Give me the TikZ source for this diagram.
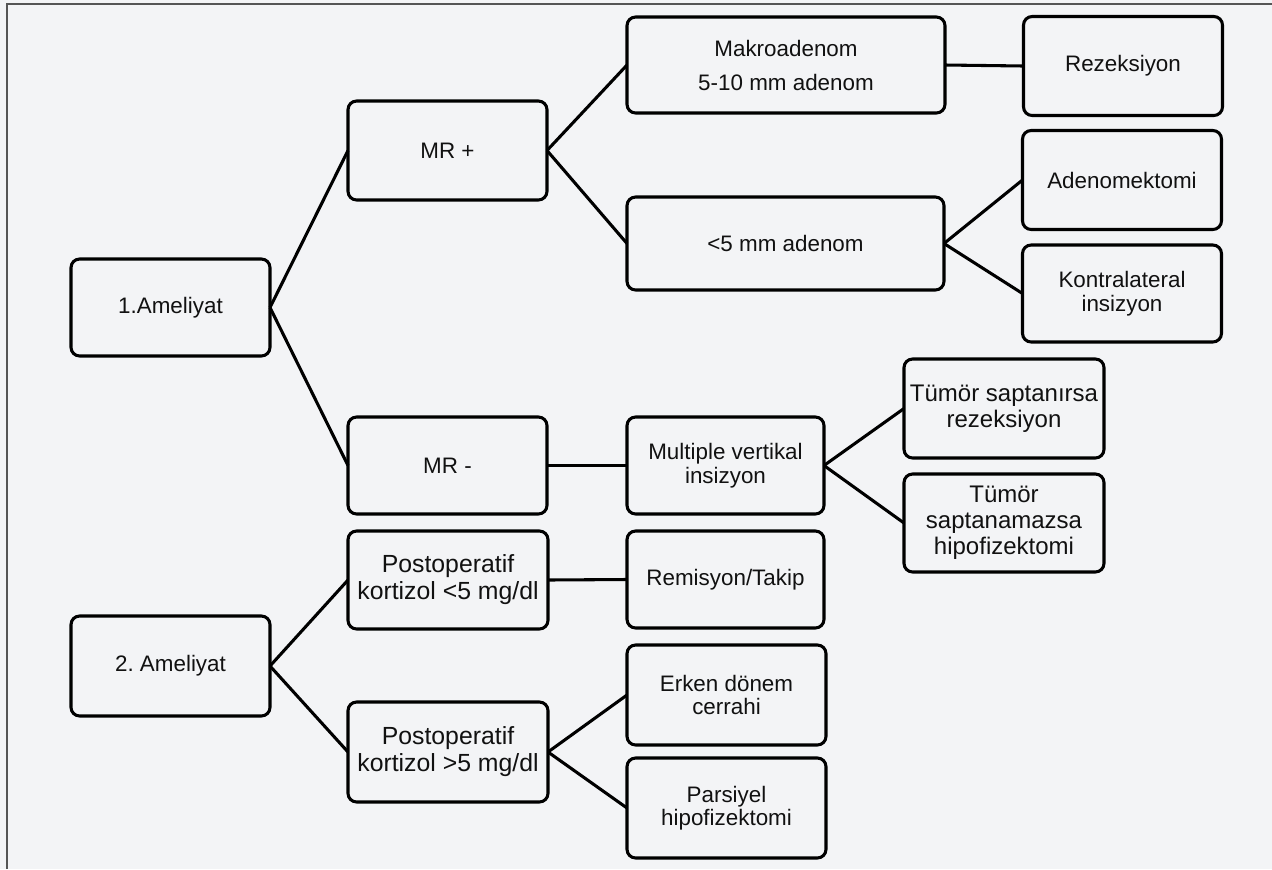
\documentclass[tikz,border=0pt]{standalone}
\usepackage{fontspec}
\setmainfont{Liberation Sans}
\frenchspacing
\definecolor{bgc}{HTML}{F3F4F6}
\definecolor{framec}{HTML}{555555}
\definecolor{txt}{HTML}{111111}
\begin{document}
\begin{tikzpicture}[x=0.75pt,y=-0.75pt,
  box/.style 2 args={draw=black, line width=2.3pt, rounded corners=6.5pt, align=center,
    inner sep=0pt, outer sep=0pt, text=txt,
    minimum width=#1*0.75pt, minimum height=#2*0.75pt,
    font=\fontsize{16.8}{17.6}\selectfont},
  wide/.style={font=\fontsize{16.8}{25.5}\selectfont},
  big/.style={font=\fontsize{18}{19.5}\selectfont},
  bigger/.style={font=\fontsize{18.6}{20.3}\selectfont},
  link/.style={draw=black, line width=2.3pt}]
\fill[bgc] (0,0) rectangle (1272,869);
\useasboundingbox (0,0) rectangle (1272,869);
\draw[framec, line width=1.2pt] (7,869) -- (7,4) -- (1272,4);

\node[box={199}{97}] (a1) at (170.5,307.5) {1.Ameliyat};
\node[box={199}{99}] (mrp) at (447.5,150.5) {MR +};
\node[box={199}{97}] (mrm) at (447.5,465.5) {MR -};
\node[box={318}{96}, wide] (makro) at (786,65) {Makroadenom\\5-10 mm adenom};
\node[box={317}{93}] (lt5) at (785.5,243.5) {<5 mm adenom};
\node[box={199}{99}] (rez) at (1123,66) {Rezeksiyon};
\node[box={199}{99}] (aden) at (1122,180) {Adenomektomi};
\node[box={199}{97}] (kontra) at (1122,293.5) {Kontralateral\\insizyon};
\node[box={197}{97}] (mult) at (725.5,465.5) {Multiple vertikal\\insizyon};
\node[box={200}{99}, big] (t1) at (1004,408.5) {T\"um\"or saptan\i rsa\\rezeksiyon};
\node[box={200}{98}, big] (t2) at (1004,523) {T\"um\"or\\saptanamazsa\\hipofizektomi};
\node[box={200}{98}, bigger] (p5) at (448,580) {Postoperatif\\kortizol <5 mg/dl};
\node[box={197}{97}] (remis) at (725.5,579.5) {Remisyon/Takip};
\node[box={199}{100}] (a2) at (170.5,666) {2. Ameliyat};
\node[box={200}{100}, bigger] (pg5) at (448,752) {Postoperatif\\kortizol >5 mg/dl};
\node[box={199}{100}] (erken) at (726.5,695) {Erken d\"onem\\cerrahi};
\node[box={199}{100}] (pars) at (726.5,808) {Parsiyel\\hipofizektomi};

\draw[link] (a1.east) -- (mrp.west);
\draw[link] (a1.east) -- (mrm.west);
\draw[link] (mrp.east) -- (makro.west);
\draw[link] (mrp.east) -- (lt5.west);
\draw[link] (makro.east) -- (rez.west);
\draw[link] (lt5.east) -- (aden.west);
\draw[link] (lt5.east) -- (kontra.west);
\draw[link] (mrm.east) -- (mult.west);
\draw[link] (mult.east) -- (t1.west);
\draw[link] (mult.east) -- (t2.west);
\draw[link] (p5.east) -- (remis.west);
\draw[link] (a2.east) -- (p5.west);
\draw[link] (a2.east) -- (pg5.west);
\draw[link] (pg5.east) -- (erken.west);
\draw[link] (pg5.east) -- (pars.west);
\end{tikzpicture}
\end{document}
